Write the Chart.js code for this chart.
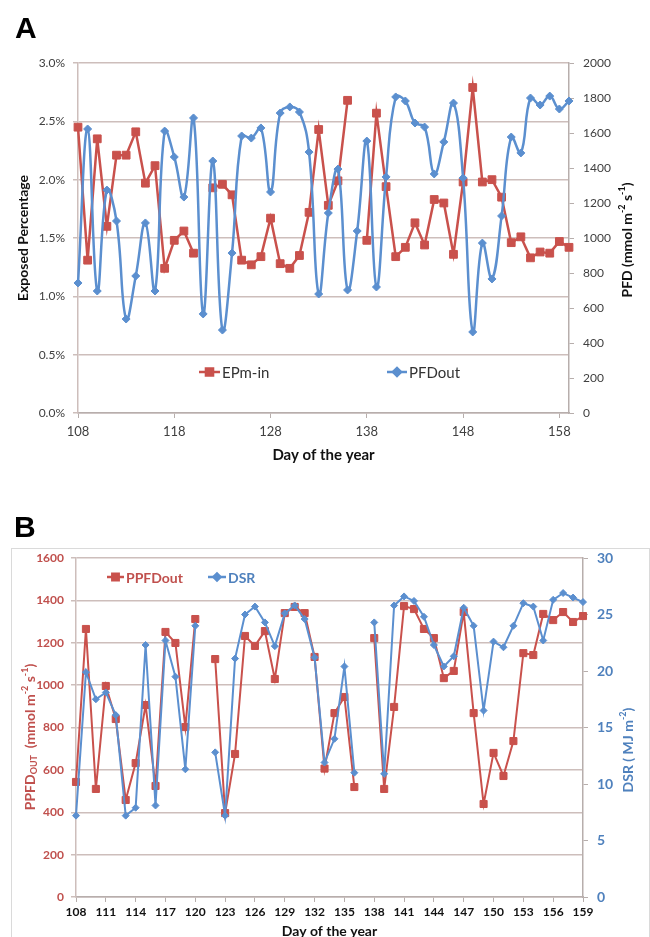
<!DOCTYPE html>
<html>
<head>
<meta charset="utf-8">
<script src="https://cdn.jsdelivr.net/npm/chart.js@4"></script>
<style>
  html, body { margin: 0; padding: 0; background: #fff; }
  body { width: 650px; height: 937px; overflow: hidden; position: relative; }
  #chartA { position: absolute; left: 0; top: 0; }
  #chartB { position: absolute; left: 0; top: 490px; }
</style>
</head>
<body>
<canvas id="chartA" width="650" height="470"></canvas>
<canvas id="chartB" width="650" height="455"></canvas>
<script>
// ---- data: panel A ----
const daysA = [108,109,110,111,112,113,114,115,116,117,118,119,120,121,122,123,124,125,126,127,128,129,130,131,132,133,
               134,135,136,137,138,139,140,141,142,143,144,145,146,147,148,149,150,151,152,153,154,155,156,157,158,159];
const epmIn = [2.45,1.31,2.35,1.60,2.21,2.21,2.41,1.97,2.12,1.24,1.48,1.56,1.37,null,1.93,1.96,1.87,1.31,1.27,1.34,1.67,1.28,1.24,1.35,1.72,2.43,
               1.78,1.99,2.68,null,1.48,2.57,1.94,1.34,1.42,1.63,1.44,1.83,1.80,1.36,1.98,2.79,1.98,2.00,1.85,1.46,1.51,1.33,1.38,1.37,1.47,1.42];
const pfdOut = [743,1623,697,1274,1097,537,783,1086,697,1611,1463,1234,1686,566,1440,474,914,1583,1571,1629,1263,1714,1749,1720,1491,680,
                1143,1394,703,1040,1554,720,1349,1806,1783,1657,1634,1366,1549,1771,1343,463,971,766,1126,1577,1486,1800,1760,1811,1737,1783];
const tickDaysA = [108,118,128,138,148,158];

// ---- data: panel B ----
const daysB = daysA;
const ppfdOut = [543,1265,510,996,840,458,632,906,524,1251,1199,802,1312,null,1123,396,675,1232,1185,1255,1029,1340,1369,1340,1133,606,
                 868,944,519,null,1222,510,897,1373,1359,1265,1222,1033,1067,1345,868,439,680,571,736,1151,1142,1336,1307,1345,1298,1326];
const dsr = [7.2,19.9,17.5,18.1,16.1,7.2,7.9,22.3,8.1,22.7,19.5,11.3,24.0,null,12.8,7.2,21.1,25.0,25.7,24.3,22.2,25.1,25.8,24.6,21.2,11.9,
             14.0,20.4,11.0,null,24.3,10.9,25.8,26.6,26.2,24.8,22.3,20.4,21.3,25.6,24.0,16.5,22.6,22.1,24.0,26.0,25.7,22.7,26.3,26.9,26.5,26.1];

const FONT = 'Lato, "Open Sans", sans-serif';
const RED = '#c9514c';
const BLUE = '#5b8fcf';
const RED_TXT = '#c0504d';
const BLUE_TXT = '#4f81bd';
const GRID = '#cdbebb';
const AXIS = '#b7aeac';

const toXY = (xs, ys) => xs.map((x, i) => ({ x: x, y: ys[i] }));
const plain = v => String(v);

// rotated axis title with sub/superscript pieces
function drawRotatedTitle(ctx, cx, cy, parts, color) {
    ctx.save();
    ctx.translate(cx, cy);
    ctx.rotate(-Math.PI / 2);
    ctx.fillStyle = color;
    ctx.textBaseline = 'middle';
    ctx.textAlign = 'left';
    let total = 0;
    parts.forEach(p => { ctx.font = p.font; p.w = ctx.measureText(p.text).width; total += p.w; });
    let x = -total / 2;
    parts.forEach(p => { ctx.font = p.font; ctx.fillText(p.text, x, p.dy || 0); x += p.w; });
    ctx.restore();
}

function drawLegendItem(ctx, it) {
    ctx.save();
    ctx.strokeStyle = it.color;
    ctx.lineWidth = 2.5;
    ctx.beginPath();
    ctx.moveTo(it.x0, it.y);
    ctx.lineTo(it.x1, it.y);
    ctx.stroke();
    ctx.fillStyle = it.color;
    Chart.helpers.drawPoint(ctx, { pointStyle: it.style, radius: it.radius, rotation: 0, borderWidth: 1 }, (it.x0 + it.x1) / 2, it.y);
    ctx.font = it.font;
    ctx.fillStyle = it.textColor;
    ctx.textAlign = 'left';
    ctx.textBaseline = 'middle';
    ctx.fillText(it.text, it.x1 + 2, it.y + 1);
    ctx.restore();
}

// ================= Panel A =================
new Chart(document.getElementById('chartA').getContext('2d'), {
    type: 'line',
    data: {
        datasets: [{
            label: 'EPm-in',
            data: toXY(daysA, epmIn),
            yAxisID: 'y',
            order: 1,
            clip: 12,
            borderColor: RED,
            backgroundColor: RED,
            borderWidth: 2.5,
            pointStyle: 'rect',
            pointRadius: 5.5,
            pointBorderWidth: 1,
            tension: 0
        }, {
            label: 'PFDout',
            data: toXY(daysA, pfdOut),
            yAxisID: 'y1',
            order: 0,
            clip: 12,
            borderColor: BLUE,
            backgroundColor: BLUE,
            borderWidth: 2.5,
            pointStyle: 'rectRot',
            pointRadius: 4,
            pointBorderWidth: 1,
            tension: 0.42
        }]
    },
    options: {
        responsive: false,
        animation: false,
        devicePixelRatio: 1,
        layout: { padding: { top: 63, left: 0, right: 0, bottom: 0 } },
        plugins: { legend: { display: false }, tooltip: { enabled: false } },
        scales: {
            x: {
                type: 'linear',
                min: 108,
                max: 159,
                afterBuildTicks: s => { s.ticks = tickDaysA.map(v => ({ value: v })); },
                afterFit: s => { s.height = 57; },
                grid: { drawOnChartArea: false, tickLength: 5, color: AXIS },
                border: { color: AXIS, width: 1.5 },
                ticks: { color: '#404040', font: { family: FONT, size: 13 }, padding: 6, maxRotation: 0, autoSkip: false, callback: plain },
                title: { display: true, text: 'Day of the year', color: '#111', font: { family: FONT, size: 15, weight: 'bold' }, padding: { top: 0, bottom: 6 } }
            },
            y: {
                position: 'left',
                min: 0,
                max: 3,
                afterFit: s => { s.width = 78; },
                grid: { color: GRID, lineWidth: 1.5, tickLength: 5 },
                border: { color: GRID, width: 1.5 },
                ticks: { stepSize: 0.5, padding: 8, color: '#404040', font: { family: FONT, size: 12 }, callback: v => v.toFixed(1) + '%' }
            },
            y1: {
                position: 'right',
                min: 0,
                max: 2000,
                afterFit: s => { s.width = 81; },
                grid: { drawOnChartArea: false, tickLength: 5, color: AXIS },
                border: { color: AXIS, width: 1.5 },
                ticks: { stepSize: 200, padding: 9, color: '#404040', font: { family: FONT, size: 12 }, callback: plain }
            }
        }
    },
    plugins: [{
        id: 'panelA',
        afterDraw(chart) {
            const ctx = chart.ctx;
            const bold = 'bold 14px ' + FONT;
            const sup = 'bold 9px ' + FONT;
            drawRotatedTitle(ctx, 23, 238, [{ text: 'Exposed Percentage', font: bold }], '#111');
            drawRotatedTitle(ctx, 627, 240, [
                { text: 'PFD (mmol m', font: bold },
                { text: '-2', font: sup, dy: -5 },
                { text: ' s', font: bold },
                { text: '-1', font: sup, dy: -5 },
                { text: ')', font: bold }
            ], '#111');
            drawLegendItem(ctx, { x0: 199, x1: 220, y: 372, color: RED, style: 'rect', radius: 5, text: 'EPm-in', textColor: '#333', font: '15px ' + FONT });
            drawLegendItem(ctx, { x0: 387, x1: 407, y: 372, color: BLUE, style: 'rectRot', radius: 4, text: 'PFDout', textColor: '#333', font: '15px ' + FONT });
            ctx.save();
            ctx.font = 'bold 30px "Liberation Sans", Arial, sans-serif';
            ctx.fillStyle = '#000';
            ctx.textBaseline = 'alphabetic';
            ctx.fillText('A', 15, 38);
            ctx.restore();
        }
    }]
});

// ================= Panel B =================
new Chart(document.getElementById('chartB').getContext('2d'), {
    type: 'line',
    data: {
        datasets: [{
            label: 'PPFDout',
            data: toXY(daysB, ppfdOut),
            yAxisID: 'y',
            order: 1,
            clip: 12,
            borderColor: RED,
            backgroundColor: RED,
            borderWidth: 2,
            pointStyle: 'rect',
            pointRadius: 5,
            pointBorderWidth: 1,
            tension: 0
        }, {
            label: 'DSR',
            data: toXY(daysB, dsr),
            yAxisID: 'y1',
            order: 0,
            clip: 12,
            borderColor: BLUE,
            backgroundColor: BLUE,
            borderWidth: 2,
            pointStyle: 'rectRot',
            pointRadius: 3.5,
            pointBorderWidth: 1,
            tension: 0
        }]
    },
    options: {
        responsive: false,
        animation: false,
        devicePixelRatio: 1,
        layout: { padding: { top: 68, left: 0, right: 0, bottom: 0 } },
        plugins: { legend: { display: false }, tooltip: { enabled: false } },
        scales: {
            x: {
                type: 'linear',
                min: 108,
                max: 159,
                afterFit: s => { s.height = 48; },
                grid: { drawOnChartArea: false, tickLength: 5, color: AXIS },
                border: { color: AXIS, width: 1.5 },
                ticks: { stepSize: 3, color: '#111', font: { family: FONT, size: 12, weight: 'bold' }, padding: 3, maxRotation: 0, autoSkip: false, callback: plain },
                title: { display: true, text: 'Day of the year', color: '#111', font: { family: FONT, size: 14, weight: 'bold' }, padding: { top: 0, bottom: 5 } }
            },
            y: {
                position: 'left',
                min: 0,
                max: 1600,
                afterFit: s => { s.width = 76; },
                grid: { color: GRID, lineWidth: 1.5, tickLength: 5 },
                border: { color: GRID, width: 1.5 },
                ticks: { stepSize: 200, padding: 7, color: RED_TXT, font: { family: FONT, size: 12, weight: 'bold' }, callback: plain }
            },
            y1: {
                position: 'right',
                min: 0,
                max: 30,
                afterFit: s => { s.width = 67; },
                grid: { drawOnChartArea: false, tickLength: 5, color: AXIS },
                border: { color: AXIS, width: 1.5 },
                ticks: { stepSize: 5, padding: 9, color: BLUE_TXT, font: { family: FONT, size: 14, weight: 'bold' }, callback: plain }
            }
        }
    },
    plugins: [{
        id: 'panelB',
        beforeDraw(chart) {
            const ctx = chart.ctx;
            ctx.save();
            ctx.strokeStyle = '#dadada';
            ctx.lineWidth = 1;
            ctx.strokeRect(11.5, 58.5, 638, 420);
            ctx.restore();
        },
        afterDraw(chart) {
            const ctx = chart.ctx;
            const redBold = 'bold 14px ' + FONT;
            const small = 'bold 9px ' + FONT;
            drawRotatedTitle(ctx, 30, 247, [
                { text: 'PPFD', font: redBold },
                { text: 'OUT', font: small, dy: 4 },
                { text: '  (mmol m', font: redBold },
                { text: '-2', font: small, dy: -5 },
                { text: ' s', font: redBold },
                { text: '-1', font: small, dy: -5 },
                { text: ')', font: redBold }
            ], RED_TXT);
            drawRotatedTitle(ctx, 628, 260, [
                { text: 'DSR ( MJ m', font: redBold },
                { text: '-2', font: small, dy: -5 },
                { text: ')', font: redBold }
            ], BLUE_TXT);
            drawLegendItem(ctx, { x0: 107, x1: 124, y: 87, color: RED, style: 'rect', radius: 4.5, text: 'PPFDout', textColor: RED_TXT, font: 'bold 14px ' + FONT });
            drawLegendItem(ctx, { x0: 208, x1: 226, y: 87, color: BLUE, style: 'rectRot', radius: 3.5, text: 'DSR', textColor: BLUE_TXT, font: 'bold 14px ' + FONT });
            ctx.save();
            ctx.font = 'bold 30px "Liberation Sans", Arial, sans-serif';
            ctx.fillStyle = '#000';
            ctx.textBaseline = 'alphabetic';
            ctx.fillText('B', 14, 47);
            ctx.restore();
        }
    }]
});
</script>
</body>
</html>
